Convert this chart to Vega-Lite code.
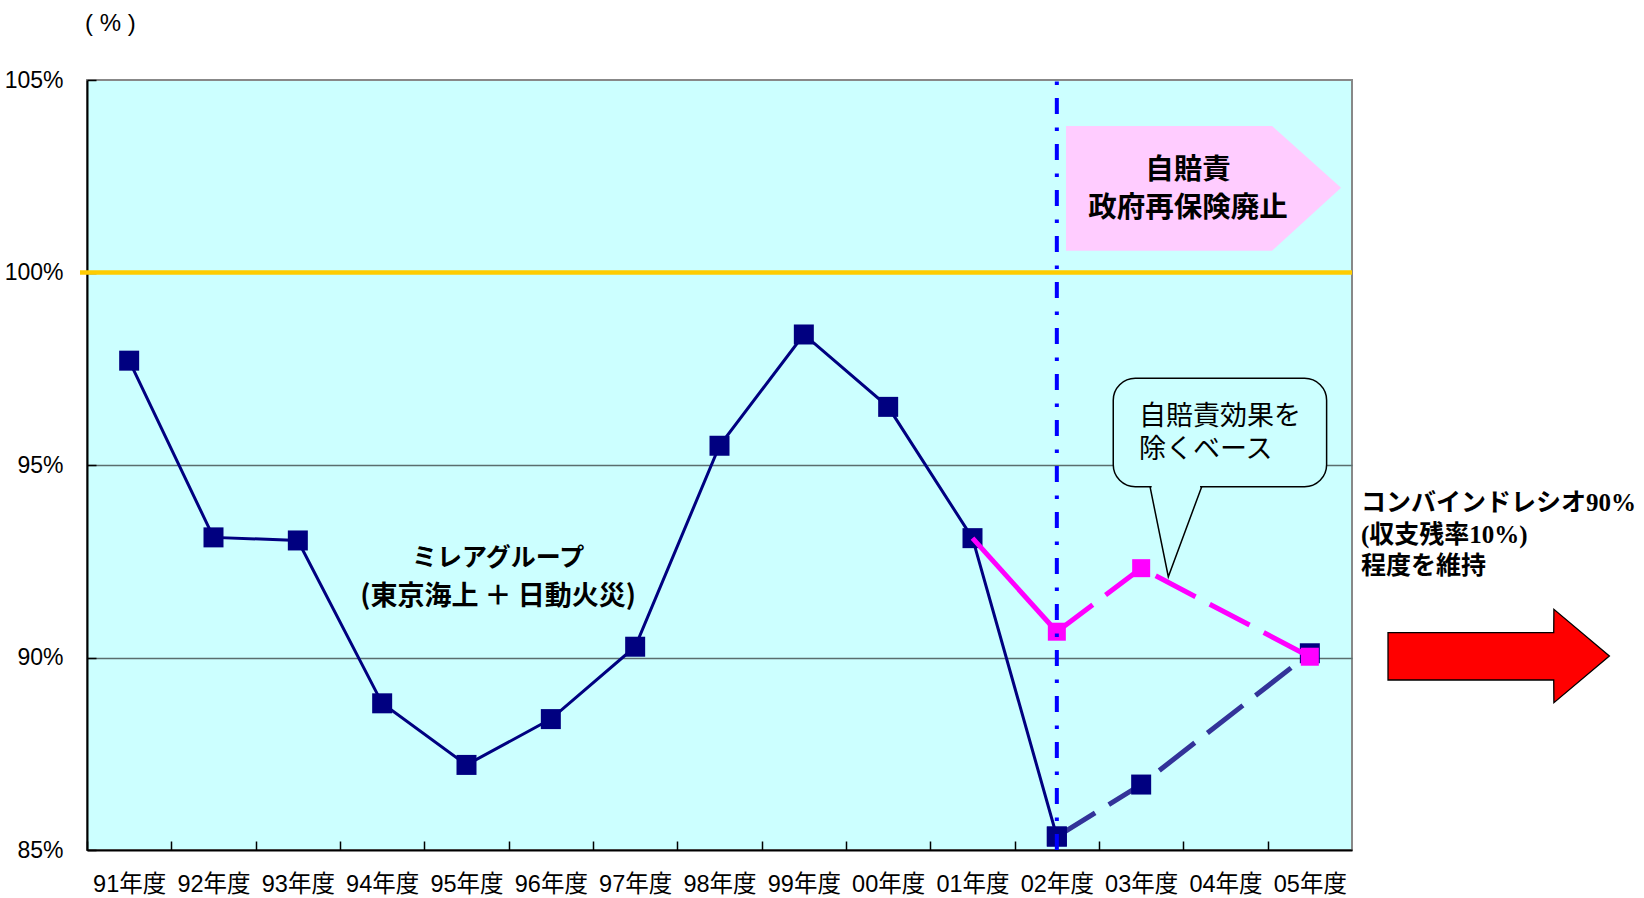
{
  "$schema": "https://vega.github.io/schema/vega-lite/v6.json",
  "width": 1265,
  "height": 770,
  "autosize": {"type": "none"},
  "padding": {"left": 87, "top": 80, "right": 292, "bottom": 48},
  "background": "white",
  "config": {
    "view": {"fill": "#CCFFFF", "stroke": "#888888", "strokeWidth": 2},
    "text": {"font": "Noto Sans CJK JP", "color": "black"}
  },
  "datasets": {
    "navy": [
      {"yr": "91年度", "x": 0.5, "v": 97.71},
      {"yr": "92年度", "x": 1.5, "v": 93.12},
      {"yr": "93年度", "x": 2.5, "v": 93.04},
      {"yr": "94年度", "x": 3.5, "v": 88.81},
      {"yr": "95年度", "x": 4.5, "v": 87.21},
      {"yr": "96年度", "x": 5.5, "v": 88.40},
      {"yr": "97年度", "x": 6.5, "v": 90.28},
      {"yr": "98年度", "x": 7.5, "v": 95.50},
      {"yr": "99年度", "x": 8.5, "v": 98.39},
      {"yr": "00年度", "x": 9.5, "v": 96.51},
      {"yr": "01年度", "x": 10.5, "v": 93.10},
      {"yr": "02年度", "x": 11.5, "v": 85.35}
    ],
    "navyForecast": [
      {"yr": "02年度", "x": 11.5, "v": 85.35},
      {"yr": "03年度", "x": 12.5, "v": 86.70},
      {"yr": "05年度", "x": 14.5, "v": 90.11}
    ],
    "pinkSolid": [
      {"yr": "01年度", "x": 10.5, "v": 93.10},
      {"yr": "02年度", "x": 11.5, "v": 90.67}
    ],
    "pinkDashed": [
      {"yr": "02年度", "x": 11.5, "v": 90.67},
      {"yr": "03年度", "x": 12.5, "v": 92.32},
      {"yr": "05年度", "x": 14.5, "v": 90.02}
    ],
    "hundred": [{"x": -0.083, "x2": 15, "v": 100}],
    "vline": [{"x": 11.5, "v": 85, "v2": 105}],
    "pinkArrow": [
      {"x": 11.609, "v": 100.566, "v2": 103.805},
      {"x": 14.052, "v": 100.566, "v2": 103.805},
      {"x": 14.870, "v": 102.203, "v2": 102.203}
    ],
    "redArrow": [
      {"x": 15.427, "v": 89.416, "v2": 90.644},
      {"x": 17.392, "v": 89.416, "v2": 90.644},
      {"x": 17.394, "v": 88.826, "v2": 91.252},
      {"x": 18.052, "v": 90.039, "v2": 90.039}
    ],
    "calloutBox": [{"x": 12.169, "x2": 14.699, "v": 97.252, "v2": 94.436}],
    "calloutGap": [{"x": 12.625, "x2": 13.198, "v": 94.49, "v2": 94.38}],
    "calloutTail": [
      {"x": 12.605, "v": 94.436},
      {"x": 12.822, "v": 92.099},
      {"x": 13.218, "v": 94.436}
    ],
    "calloutText": [
      {"x": 12.474, "v": 96.255, "t": "自賠責効果を"},
      {"x": 12.474, "v": 95.39, "t": "除くベース"}
    ]
  },
  "encoding": {
    "x": {
      "field": "x",
      "type": "quantitative",
      "scale": {"domain": [0, 15], "nice": false, "zero": false},
      "axis": {
        "title": null,
        "values": [0, 1, 2, 3, 4, 5, 6, 7, 8, 9, 10, 11, 12, 13, 14],
        "labelExpr": "['91年度','92年度','93年度','94年度','95年度','96年度','97年度','98年度','99年度','00年度','01年度','02年度','03年度','04年度','05年度'][floor(datum.value + 0.01)]",
        "labelOffset": 42.17,
        "tickSize": -9,
        "tickColor": "black",
        "tickWidth": 1.5,
        "grid": false,
        "domainColor": "black",
        "domainWidth": 2,
        "labelFont": "Liberation Sans, Noto Sans CJK JP",
        "labelFontSize": 23.5,
        "labelColor": "black",
        "labelBaseline": "middle",
        "labelPadding": 43,
        "labelFlush": false,
        "labelOverlap": false
      }
    },
    "y": {
      "field": "v",
      "type": "quantitative",
      "stack": null,
      "scale": {"domain": [85, 105], "nice": false, "zero": false},
      "axis": {
        "title": null,
        "values": [85, 90, 95, 100, 105],
        "labelExpr": "datum.value + '%'",
        "tickSize": -9,
        "tickColor": "black",
        "tickWidth": 1.5,
        "grid": true,
        "gridColor": "#5a6e6e",
        "gridWidth": 1.5,
        "gridOpacity": {"condition": {"test": "datum.value == 90 || datum.value == 95", "value": 1}, "value": 0},
        "domainColor": "black",
        "domainWidth": 2,
        "labelFont": "Liberation Sans",
        "labelFontSize": 23,
        "labelColor": "black",
        "labelPadding": 33,
        "labelFlush": false,
        "labelOverlap": false
      }
    }
  },
  "layer": [
    {
      "data": {"name": "hundred"},
      "mark": {"type": "rule", "color": "#FFCC00", "strokeWidth": 4.5, "clip": false},
      "encoding": {"x2": {"field": "x2"}}
    },
    {
      "data": {"name": "pinkArrow"},
      "mark": {"type": "area", "color": "#FFCCFF", "opacity": 1},
      "encoding": {"y2": {"field": "v2"}}
    },
    {
      "data": {"values": [{"x": 4.874, "v": 92.577, "t": "ミレアグループ"}]},
      "mark": {"type": "text", "fontSize": 25, "fontWeight": "bold", "align": "center", "baseline": "middle"},
      "encoding": {"text": {"field": "t"}}
    },
    {
      "data": {"values": [{"x": 4.874, "v": 91.58, "t": "(東京海上 ＋ 日動火災)"}]},
      "mark": {"type": "text", "fontSize": 27, "fontWeight": "bold", "align": "center", "baseline": "middle"},
      "encoding": {"text": {"field": "t"}}
    },
    {
      "data": {"values": [{"x": 13.056, "v": 102.662, "t": ["自賠責", "政府再保険廃止"]}]},
      "mark": {"type": "text", "fontSize": 28.5, "fontWeight": "bold", "lineHeight": 38, "align": "center", "baseline": "middle"},
      "encoding": {"text": {"field": "t"}}
    },
    {
      "data": {"name": "navy"},
      "mark": {"type": "line", "color": "#000080", "strokeWidth": 3}
    },
    {
      "data": {"name": "navyForecast"},
      "mark": {"type": "line", "color": "#333399", "strokeWidth": 5, "strokeDash": [45, 16]}
    },
    {
      "data": {"name": "navy"},
      "mark": {"type": "point", "shape": "square", "filled": true, "size": 400, "color": "#000080", "opacity": 1}
    },
    {
      "data": {"name": "navyForecast"},
      "mark": {"type": "point", "shape": "square", "filled": true, "size": 400, "color": "#000080", "opacity": 1}
    },
    {
      "data": {"name": "pinkSolid"},
      "mark": {"type": "line", "color": "#FF00FF", "strokeWidth": 5}
    },
    {
      "data": {"name": "pinkDashed"},
      "mark": {"type": "line", "color": "#FF00FF", "strokeWidth": 5, "strokeDash": [45, 16]}
    },
    {
      "data": {"name": "pinkDashed"},
      "mark": {"type": "point", "shape": "square", "filled": true, "size": 324, "color": "#FF00FF", "opacity": 1}
    },
    {
      "data": {"name": "vline"},
      "mark": {"type": "rule", "color": "#0000FF", "strokeWidth": 4, "strokeDash": [16, 13, 3.5, 13.5]},
      "encoding": {"y2": {"field": "v2"}}
    },
    {
      "data": {"name": "calloutBox"},
      "mark": {"type": "rect", "fill": "#CCFFFF", "stroke": "black", "strokeWidth": 1.5, "cornerRadius": 22},
      "encoding": {"x2": {"field": "x2"}, "y2": {"field": "v2"}}
    },
    {
      "data": {"name": "calloutGap"},
      "mark": {"type": "rect", "fill": "#CCFFFF", "strokeWidth": 0},
      "encoding": {"x2": {"field": "x2"}, "y2": {"field": "v2"}}
    },
    {
      "data": {"name": "calloutTail"},
      "mark": {"type": "line", "color": "black", "strokeWidth": 1.5}
    },
    {
      "data": {"name": "calloutText"},
      "mark": {"type": "text", "fontSize": 27, "align": "left", "baseline": "middle"},
      "encoding": {"text": {"field": "t"}}
    },
    {
      "data": {"name": "redArrow"},
      "mark": {"type": "area", "fill": "#FF0000", "stroke": "black", "strokeWidth": 1.3, "opacity": 1, "clip": false},
      "encoding": {"y2": {"field": "v2"}}
    },
    {
      "data": {"values": [{"x": 15.107, "v": 94.005, "t": ["コンバインドレシオ90%", "(収支残率10%)", "程度を維持"]}]},
      "mark": {"type": "text", "font": "Liberation Serif, Noto Sans CJK JP", "fontSize": 25, "fontWeight": "bold", "lineHeight": 31.5, "align": "left", "baseline": "middle", "clip": false},
      "encoding": {"text": {"field": "t"}}
    },
    {
      "data": {"values": [{"x": -0.024, "v": 106.45, "t": "( % )"}]},
      "mark": {"type": "text", "font": "Liberation Sans", "fontSize": 24, "align": "left", "baseline": "middle", "clip": false},
      "encoding": {"text": {"field": "t"}}
    }
  ]
}
